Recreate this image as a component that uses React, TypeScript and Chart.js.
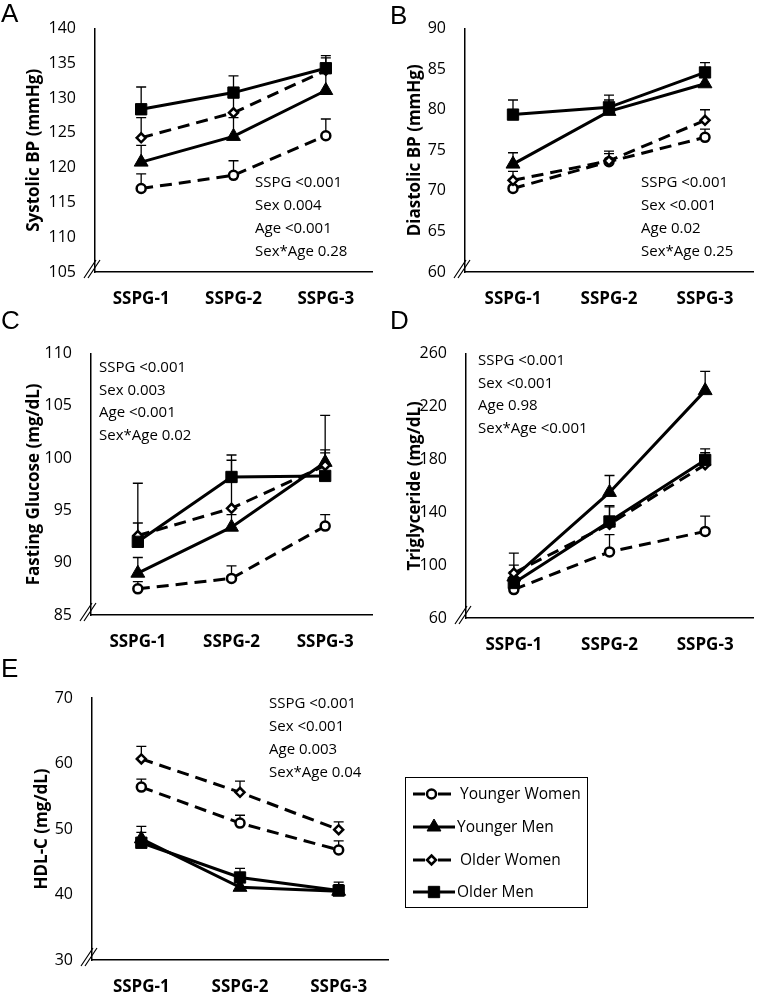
import React, { useEffect, useRef } from "react";
import { Chart, registerables } from "chart.js";
Chart.register(...registerables);

// ---------- DATA ----------
const categories = ["SSPG-1", "SSPG-2", "SSPG-3"];
const seriesNames = ["Younger Women", "Younger Men", "Older Women", "Older Men"];

// A: Systolic BP (mmHg)
const sbpYoungerWomen = [117.0, 118.9, 124.6];
const sbpYoungerMen = [120.8, 124.5, 131.1];
const sbpOlderWomen = [124.3, 127.9, 134.0];
const sbpOlderMen = [128.4, 130.8, 134.3];
const sbpYoungerWomenErr = [119.1, 121.0, 127.0];
const sbpYoungerMenErr = [123.2, 127.2, 133.6];
const sbpOlderWomenErr = [127.2, 130.5, 135.8];
const sbpOlderMenErr = [131.6, 133.2, 136.1];
const sbpTicks = [105, 140, 5];
const sbpNotes = ["SSPG <0.001", "Sex 0.004", "Age <0.001", "Sex*Age 0.28"];

// B: Diastolic BP (mmHg)
const dbpYoungerWomen = [70.3, 73.6, 76.6];
const dbpYoungerMen = [73.3, 79.8, 83.2];
const dbpOlderWomen = [71.3, 73.7, 78.7];
const dbpOlderMen = [79.4, 80.3, 84.6];
const dbpYoungerWomenErr = [71.4, 74.6, 77.6];
const dbpYoungerMenErr = [74.7, 81.2, 84.4];
const dbpOlderWomenErr = [72.4, 74.9, 80.0];
const dbpOlderMenErr = [81.2, 81.8, 85.8];
const dbpTicks = [60, 90, 5];
const dbpNotes = ["SSPG <0.001", "Sex <0.001", "Age 0.02", "Sex*Age 0.25"];

// C: Fasting Glucose (mg/dL)
const fgYoungerWomen = [87.5, 88.5, 93.5];
const fgYoungerMen = [89.0, 93.4, 99.6];
const fgOlderWomen = [92.6, 95.2, 99.3];
const fgOlderMen = [92.0, 98.2, 98.3];
const fgYoungerWomenErr = [88.2, 89.7, 94.6];
const fgYoungerMenErr = [90.5, 94.6, 104.1];
const fgOlderWomenErr = [97.6, 99.8, 100.5];
const fgOlderMenErr = [93.8, 100.3, 100.8];
const fgTicks = [85, 110, 5];
const fgNotes = ["SSPG <0.001", "Sex 0.003", "Age <0.001", "Sex*Age 0.02"];

// D: Triglyceride (mg/dL)
const tgYoungerWomen = [81.5, 110, 125.5];
const tgYoungerMen = [91, 155, 232];
const tgOlderWomen = [94, 131, 176];
const tgOlderMen = [86.5, 133, 179.5];
const tgYoungerWomenErr = [86, 123, 137];
const tgYoungerMenErr = [100, 167.8, 246.5];
const tgOlderWomenErr = [109, 144, 185];
const tgOlderMenErr = [95, 145, 188];
const tgTicks = [60, 260, 40];
const tgNotes = ["SSPG <0.001", "Sex <0.001", "Age 0.98", "Sex*Age <0.001"];

// E: HDL-C (mg/dL)
const hdlYoungerWomen = [56.4, 50.9, 46.8];
const hdlYoungerMen = [48.5, 41.1, 40.5];
const hdlOlderWomen = [60.7, 55.6, 49.9];
const hdlOlderMen = [47.9, 42.6, 40.6];
const hdlYoungerWomenErr = [57.6, 52.1, 48.2];
const hdlYoungerMenErr = [49.5, 42.2, 41.5];
const hdlOlderWomenErr = [62.6, 57.3, 51.1];
const hdlOlderMenErr = [50.4, 44.0, 41.9];
const hdlTicks = [30, 70, 10];
const hdlNotes = ["SSPG <0.001", "Sex <0.001", "Age 0.003", "Sex*Age 0.04"];

// ---------- STYLES ----------
const FONT = "'Open Sans', Lato, sans-serif";
const INK = "#000";
const seriesStyles = [
  { dash: [12, 7], pointStyle: "circle", radius: 4.5, fill: "#fff", bw: 2.5 },
  { dash: [], pointStyle: "triangle", radius: 8, fill: "#000", bw: 1 },
  { dash: [12, 7], pointStyle: "rectRot", radius: 4.5, fill: "#fff", bw: 2.5 },
  { dash: [], pointStyle: "rect", radius: 8, fill: "#000", bw: 1 },
];

type Panel = {
  letter: string;
  letterPos: [number, number];
  canvas: { left: number; top: number; width: number; height: number };
  area: { l: number; t: number; r: number; b: number };
  yTitle: string;
  titlePad: number;
  ticks: number[];
  means: number[][];
  errs: number[][];
  notes: string[];
  noteX: number;
  noteY: number;
  noteGap: number;
  legend?: boolean;
};

const panels: Panel[] = [
  {
    letter: "A", letterPos: [1, 0],
    canvas: { left: 0, top: 0, width: 381, height: 325 },
    area: { l: 95, t: 14, r: 376, b: 272 },
    yTitle: "Systolic BP (mmHg)", titlePad: 24, ticks: sbpTicks,
    means: [sbpYoungerWomen, sbpYoungerMen, sbpOlderWomen, sbpOlderMen],
    errs: [sbpYoungerWomenErr, sbpYoungerMenErr, sbpOlderWomenErr, sbpOlderMenErr],
    notes: sbpNotes, noteX: 255, noteY: 187, noteGap: 23,
  },
  {
    letter: "B", letterPos: [390, 2],
    canvas: { left: 381, top: 0, width: 381, height: 325 },
    area: { l: 84, t: 13, r: 381, b: 272 },
    yTitle: "Diastolic BP (mmHg)", titlePad: 24, ticks: dbpTicks,
    means: [dbpYoungerWomen, dbpYoungerMen, dbpOlderWomen, dbpOlderMen],
    errs: [dbpYoungerWomenErr, dbpYoungerMenErr, dbpOlderWomenErr, dbpOlderMenErr],
    notes: dbpNotes, noteX: 260, noteY: 187, noteGap: 23,
  },
  {
    letter: "C", letterPos: [1, 307],
    canvas: { left: 0, top: 325, width: 381, height: 340 },
    area: { l: 91, t: 27, r: 373, b: 290 },
    yTitle: "Fasting Glucose (mg/dL)", titlePad: 24, ticks: fgTicks,
    means: [fgYoungerWomen, fgYoungerMen, fgOlderWomen, fgOlderMen],
    errs: [fgYoungerWomenErr, fgYoungerMenErr, fgOlderWomenErr, fgOlderMenErr],
    notes: fgNotes, noteX: 99, noteY: 47, noteGap: 22.5,
  },
  {
    letter: "D", letterPos: [390, 307],
    canvas: { left: 381, top: 325, width: 381, height: 340 },
    area: { l: 85, t: 20, r: 381, b: 293 },
    yTitle: "Triglyceride (mg/dL)", titlePad: 24, ticks: tgTicks,
    means: [tgYoungerWomen, tgYoungerMen, tgOlderWomen, tgOlderMen],
    errs: [tgYoungerWomenErr, tgYoungerMenErr, tgOlderWomenErr, tgOlderMenErr],
    notes: tgNotes, noteX: 97, noteY: 40, noteGap: 22.7,
  },
  {
    letter: "E", letterPos: [1, 655],
    canvas: { left: 0, top: 665, width: 762, height: 330 },
    area: { l: 92, t: 33, r: 388, b: 295 },
    yTitle: "HDL-C (mg/dL)", titlePad: 32, ticks: hdlTicks,
    means: [hdlYoungerWomen, hdlYoungerMen, hdlOlderWomen, hdlOlderMen],
    errs: [hdlYoungerWomenErr, hdlYoungerMenErr, hdlOlderWomenErr, hdlOlderMenErr],
    notes: hdlNotes, noteX: 269, noteY: 43, noteGap: 23,
    legend: true,
  },
];

function drawMarker(ctx: CanvasRenderingContext2D, idx: number, x: number, y: number) {
  const st = seriesStyles[idx];
  ctx.save();
  ctx.fillStyle = st.fill;
  ctx.strokeStyle = "#000";
  ctx.lineWidth = st.bw;
  ctx.setLineDash([]);
  ctx.beginPath();
  const r = st.radius;
  if (st.pointStyle === "circle") {
    ctx.arc(x, y, r, 0, Math.PI * 2);
  } else if (st.pointStyle === "triangle") {
    ctx.moveTo(x, y - r);
    ctx.lineTo(x + r * 0.866, y + r * 0.5);
    ctx.lineTo(x - r * 0.866, y + r * 0.5);
  } else if (st.pointStyle === "rectRot") {
    ctx.moveTo(x, y - r);
    ctx.lineTo(x + r, y);
    ctx.lineTo(x, y + r);
    ctx.lineTo(x - r, y);
  } else {
    const s = r * Math.SQRT1_2;
    ctx.rect(x - s, y - s, 2 * s, 2 * s);
  }
  ctx.closePath();
  ctx.fill();
  ctx.stroke();
  ctx.restore();
}

function makePlugin(p: Panel) {
  return {
    id: "panelExtras" + p.letter,
    beforeDatasetsDraw(chart: any) {
      const ctx = chart.ctx as CanvasRenderingContext2D;
      const ys = chart.scales.y;
      ctx.save();
      ctx.strokeStyle = "#000";
      ctx.lineWidth = 1.3;
      p.errs.forEach((arr, di) => {
        const meta = chart.getDatasetMeta(di);
        arr.forEach((v, i) => {
          const pt = meta.data[i];
          if (!pt) return;
          const x = pt.x;
          const y0 = ys.getPixelForValue(p.means[di][i]);
          const y1 = ys.getPixelForValue(v);
          ctx.beginPath();
          ctx.moveTo(x, y0);
          ctx.lineTo(x, y1);
          ctx.moveTo(x - 5, y1);
          ctx.lineTo(x + 5, y1);
          ctx.stroke();
        });
      });
      ctx.restore();
    },
    afterDraw(chart: any) {
      const ctx = chart.ctx as CanvasRenderingContext2D;
      const { left, bottom } = chart.chartArea;
      // axis break marks
      ctx.save();
      ctx.strokeStyle = "#000";
      ctx.lineWidth = 1.2;
      ctx.beginPath();
      ctx.moveTo(left - 11, bottom + 6);
      ctx.lineTo(left + 1, bottom - 12);
      ctx.moveTo(left - 7, bottom + 6);
      ctx.lineTo(left + 5, bottom - 12);
      ctx.stroke();
      // statistics notes
      ctx.fillStyle = INK;
      ctx.font = `15px ${FONT}`;
      ctx.textBaseline = "alphabetic";
      ctx.textAlign = "left";
      p.notes.forEach((t, i) => ctx.fillText(t, p.noteX, p.noteY + i * p.noteGap));
      // legend
      if (p.legend) {
        const bx = 405, by = 112, bw = 182, bh = 130;
        ctx.lineWidth = 1;
        ctx.strokeStyle = "#000";
        ctx.strokeRect(bx + 0.5, by + 0.5, bw, bh);
        const rows = [129, 162, 195, 227];
        seriesNames.forEach((name, i) => {
          const y = rows[i];
          const st = seriesStyles[i];
          ctx.save();
          ctx.lineWidth = 3;
          ctx.strokeStyle = "#000";
          ctx.beginPath();
          if (st.dash.length) {
            ctx.moveTo(413, y);
            ctx.lineTo(425, y);
            ctx.moveTo(438, y);
            ctx.lineTo(451, y);
          } else {
            ctx.moveTo(413, y);
            ctx.lineTo(455, y);
          }
          ctx.stroke();
          ctx.restore();
          drawMarker(ctx, i, st.dash.length ? 431.5 : 434, y);
          ctx.fillStyle = INK;
          ctx.font = `15.5px ${FONT}`;
          ctx.textBaseline = "middle";
          ctx.fillText(name, st.dash.length ? 460 : 457, y + 1);
        });
      }
      ctx.restore();
    },
  };
}

function PanelChart({ p }: { p: Panel }) {
  const ref = useRef<HTMLCanvasElement>(null);
  useEffect(() => {
    if (!ref.current) return;
    const [yMin, yMax, yStep] = p.ticks;
    const chart = new Chart(ref.current, {
      type: "line",
      data: {
        labels: categories,
        datasets: seriesNames.map((name, i) => {
          const st = seriesStyles[i];
          return {
            label: name,
            data: p.means[i],
            borderColor: "#000",
            borderWidth: 3,
            borderDash: st.dash,
            pointStyle: st.pointStyle as any,
            pointRadius: st.radius,
            pointBackgroundColor: st.fill,
            pointBorderColor: "#000",
            pointBorderWidth: st.bw,
            tension: 0,
            fill: false,
            order: 3 - i,
          };
        }),
      },
      options: {
        responsive: false,
        animation: false,
        events: [],
        layout: {
          padding: { left: 0, top: p.area.t, right: p.canvas.width - p.area.r, bottom: 0 },
        },
        plugins: { legend: { display: false }, tooltip: { enabled: false } },
        scales: {
          x: {
            type: "category",
            offset: true,
            grid: { display: false, drawTicks: false },
            border: { display: true, color: "#000", width: 1.5 },
            ticks: {
              font: { family: FONT, size: 17, weight: "bold" },
              color: INK,
              padding: 17,
              maxRotation: 0,
              autoSkip: false,
            },
            afterFit: (s: any) => {
              s.height = p.canvas.height - p.area.b;
            },
          },
          y: {
            min: yMin,
            max: yMax,
            grid: { display: false, drawTicks: false },
            border: { display: true, color: "#000", width: 1.5 },
            ticks: {
              stepSize: yStep,
              font: { family: FONT, size: 16 },
              color: INK,
              padding: 19,
            },
            title: {
              display: true,
              text: p.yTitle,
              font: { family: FONT, size: 17, weight: "bold" },
              color: INK,
              padding: { top: p.titlePad, bottom: 0 },
            },
            afterFit: (s: any) => {
              s.width = p.area.l;
            },
          },
        },
      } as any,
      plugins: [makePlugin(p)],
    });
    return () => chart.destroy();
  }, [p]);
  return (
    <canvas
      ref={ref}
      width={p.canvas.width}
      height={p.canvas.height}
      style={{
        position: "absolute",
        left: p.canvas.left,
        top: p.canvas.top,
        width: p.canvas.width,
        height: p.canvas.height,
      }}
    />
  );
}

export default function App() {
  return (
    <div style={{ position: "absolute", left: 0, top: 0, width: 762, height: 995, background: "#fff", overflow: "hidden" }}>
      {panels.map((p) => (
        <PanelChart key={p.letter} p={p} />
      ))}
      {panels.map((p) => (
        <div
          key={"l" + p.letter}
          style={{
            position: "absolute",
            left: p.letterPos[0],
            top: p.letterPos[1],
            fontFamily: "'Liberation Sans', Arial, sans-serif",
            fontSize: 26,
            lineHeight: 1,
            color: "#000",
          }}
        >
          {p.letter}
        </div>
      ))}
    </div>
  );
}
